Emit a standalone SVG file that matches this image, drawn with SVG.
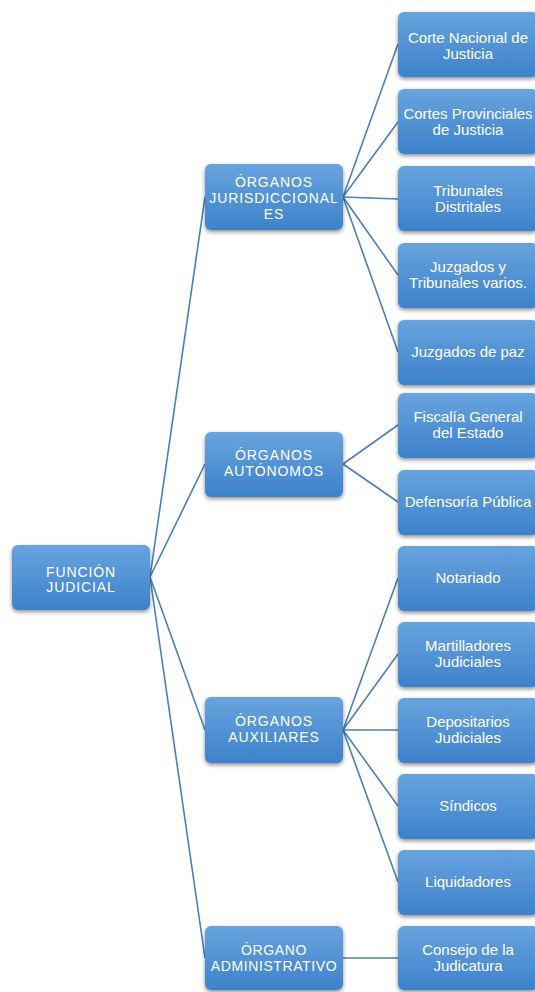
<svg xmlns="http://www.w3.org/2000/svg" width="535" height="992" viewBox="0 0 535 992">
<defs>
<linearGradient id="g" x1="0" y1="0" x2="0" y2="1">
<stop offset="0" stop-color="#68a3de"/>
<stop offset="1" stop-color="#3d82cb"/>
</linearGradient>
<filter id="sh" x="-10%" y="-10%" width="125%" height="130%">
<feGaussianBlur in="SourceAlpha" stdDeviation="2"/>
<feOffset dx="0" dy="2" result="b"/>
<feComponentTransfer><feFuncA type="linear" slope="0.45"/></feComponentTransfer>
<feMerge><feMergeNode/><feMergeNode in="SourceGraphic"/></feMerge>
</filter>
</defs>
<style>
.n rect{fill:url(#g);filter:url(#sh);}
.t{font-family:"Liberation Sans",Arial,sans-serif;font-size:14px;fill:#ffffff;text-anchor:middle;}
.l{font-size:15px;}
.u{letter-spacing:0.9px;}
.a{letter-spacing:0.6px;}
#connectors line{stroke:#4a80b8;stroke-width:1.6;}
</style>
<rect width="535" height="992" fill="#ffffff"/>
<g id="connectors">
<line x1="150" y1="577" x2="205" y2="197"/>
<line x1="150" y1="577" x2="205" y2="464"/>
<line x1="150" y1="577" x2="205" y2="730"/>
<line x1="150" y1="577" x2="205" y2="958"/>
<line x1="343" y1="197" x2="398" y2="44"/>
<line x1="343" y1="197" x2="398" y2="122"/>
<line x1="343" y1="197" x2="398" y2="199"/>
<line x1="343" y1="197" x2="398" y2="275"/>
<line x1="343" y1="197" x2="398" y2="352"/>
<line x1="343" y1="464" x2="398" y2="425"/>
<line x1="343" y1="464" x2="398" y2="502"/>
<line x1="343" y1="730" x2="398" y2="578"/>
<line x1="343" y1="730" x2="398" y2="654"/>
<line x1="343" y1="730" x2="398" y2="730"/>
<line x1="343" y1="730" x2="398" y2="806"/>
<line x1="343" y1="730" x2="398" y2="882"/>
<line x1="343" y1="958" x2="398" y2="958"/>
</g>
<g id="funcion" class="n"><rect x="12" y="545" width="138" height="65" rx="6"/><text class="t u" x="81" y="577">FUNCIÓN</text><text class="t u" x="81" y="592">JUDICIAL</text></g>
<g id="jurisdiccionales" class="n"><rect x="205" y="164" width="138" height="66" rx="6"/><text class="t u" x="274" y="187">ÓRGANOS</text><text class="t u" x="274" y="203">JURISDICCIONAL</text><text class="t u" x="274" y="219">ES</text></g>
<g id="autonomos" class="n"><rect x="205" y="432" width="138" height="65" rx="6"/><text class="t u" x="274" y="460">ÓRGANOS</text><text class="t u" x="274" y="476">AUTÓNOMOS</text></g>
<g id="auxiliares" class="n"><rect x="205" y="697" width="138" height="66" rx="6"/><text class="t u" x="274" y="726">ÓRGANOS</text><text class="t u" x="274" y="742">AUXILIARES</text></g>
<g id="administrativo" class="n"><rect x="205" y="926" width="138" height="64" rx="6"/><text class="t a" x="274" y="955">ÓRGANO</text><text class="t a" x="274" y="971">ADMINISTRATIVO</text></g>
<g id="corte-nacional" class="n"><rect x="398" y="12" width="140" height="65" rx="6"/><text class="t l" x="468" y="43">Corte Nacional de</text><text class="t l" x="468" y="59">Justicia</text></g>
<g id="cortes-provinciales" class="n"><rect x="398" y="89" width="140" height="65" rx="6"/><text class="t l" x="468" y="119">Cortes Provinciales</text><text class="t l" x="468" y="135">de Justicia</text></g>
<g id="tribunales-distritales" class="n"><rect x="398" y="166" width="140" height="65" rx="6"/><text class="t l" x="468" y="196">Tribunales</text><text class="t l" x="468" y="212">Distritales</text></g>
<g id="juzgados-tribunales" class="n"><rect x="398" y="243" width="140" height="65" rx="6"/><text class="t l" x="468" y="272">Juzgados y</text><text class="t l" x="468" y="288">Tribunales varios.</text></g>
<g id="juzgados-paz" class="n"><rect x="398" y="320" width="140" height="65" rx="6"/><text class="t l" x="468" y="357">Juzgados de paz</text></g>
<g id="fiscalia" class="n"><rect x="398" y="393" width="140" height="65" rx="6"/><text class="t l" x="468" y="422">Fiscalía General</text><text class="t l" x="468" y="438">del Estado</text></g>
<g id="defensoria" class="n"><rect x="398" y="470" width="140" height="65" rx="6"/><text class="t l" x="468" y="507">Defensoría Pública</text></g>
<g id="notariado" class="n"><rect x="398" y="546" width="140" height="65" rx="6"/><text class="t l" x="468" y="583">Notariado</text></g>
<g id="martilladores" class="n"><rect x="398" y="622" width="140" height="65" rx="6"/><text class="t l" x="468" y="651">Martilladores</text><text class="t l" x="468" y="667">Judiciales</text></g>
<g id="depositarios" class="n"><rect x="398" y="698" width="140" height="65" rx="6"/><text class="t l" x="468" y="727">Depositarios</text><text class="t l" x="468" y="743">Judiciales</text></g>
<g id="sindicos" class="n"><rect x="398" y="774" width="140" height="65" rx="6"/><text class="t l" x="468" y="811">Síndicos</text></g>
<g id="liquidadores" class="n"><rect x="398" y="850" width="140" height="65" rx="6"/><text class="t l" x="468" y="887">Liquidadores</text></g>
<g id="consejo" class="n"><rect x="398" y="926" width="140" height="64" rx="6"/><text class="t l" x="468" y="955">Consejo de la</text><text class="t l" x="468" y="971">Judicatura</text></g>
</svg>
